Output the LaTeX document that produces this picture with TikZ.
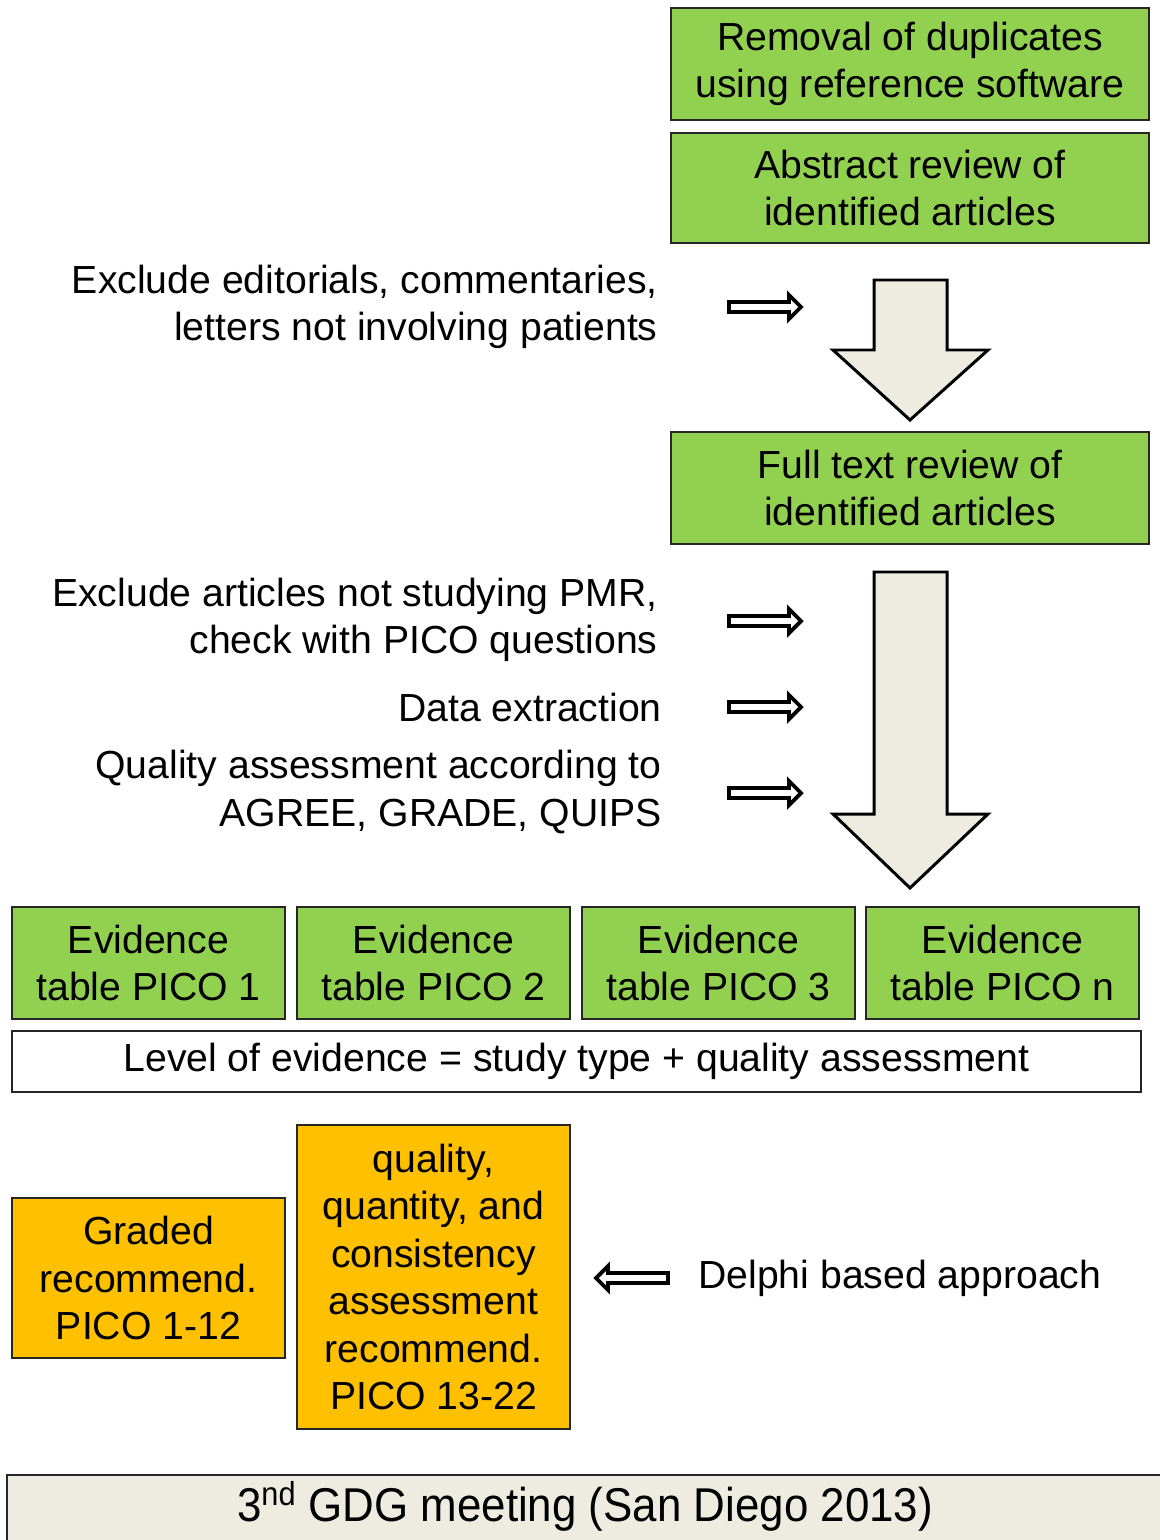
\documentclass[tikz,border=0pt]{standalone}
\usepackage{fontspec}
\setmainfont{Liberation Sans}
\definecolor{boxgreen}{RGB}{146,208,80}
\definecolor{boxorange}{RGB}{255,192,0}
\definecolor{paper}{RGB}{238,236,225}
\begin{document}
\begin{tikzpicture}
\tikzstyle{box} = [draw=black!85,line width=1pt,align=center,inner sep=0pt,font=\fontsize{22.3}{27}\selectfont]
\tikzstyle{green box} = [box,fill=boxgreen]
\tikzstyle{orange box} = [box,fill=boxorange]
\tikzstyle{note} = [align=right,inner sep=0pt,font=\fontsize{22.3}{27}\selectfont]
\tikzstyle{big arrow} = [draw=black,line width=1.7pt,fill=paper,line join=miter]
\tikzstyle{thin arrow} = [draw=black,line width=2.2pt,fill=white,line join=miter]
\def\u{0.02cm}

\useasboundingbox (0,0) rectangle (1159*\u,-1540*\u);

% search and screening
\node[green box,minimum width=478*\u,minimum height=112*\u] (dupl) at (910*\u,-64*\u) {Removal of duplicates\\using reference software};
\node[green box,minimum width=478*\u,minimum height=110*\u] (abstr) at (910*\u,-188*\u) {Abstract review of\\identified articles};
\node[green box,minimum width=478*\u,minimum height=112*\u] (full) at (910*\u,-488*\u) {Full text review of\\identified articles};

\node[note,anchor=east] (excl1) at (658*\u,-307*\u) {Exclude editorials, commentaries,\\letters not involving patients};
\node[note,anchor=east] (excl2) at (658*\u,-620*\u) {Exclude articles not studying PMR,\\check with PICO questions};
\node[note,anchor=east] (extr) at (662*\u,-707*\u) {Data extraction};
\node[note,anchor=east] (qual) at (662*\u,-792*\u) {Quality assessment according to\\AGREE, GRADE, QUIPS};

% down arrows
\draw[big arrow] (874*\u,-280*\u) -- (947*\u,-280*\u) -- (947*\u,-350*\u) -- (988*\u,-350*\u)
  -- (910*\u,-420*\u) -- (833*\u,-350*\u) -- (874*\u,-350*\u) -- cycle;
\draw[big arrow] (874*\u,-572*\u) -- (947*\u,-572*\u) -- (947*\u,-814*\u) -- (988*\u,-814*\u)
  -- (910*\u,-888*\u) -- (833*\u,-814*\u) -- (874*\u,-814*\u) -- cycle;

% small arrows beside the notes
\foreach \y in {307,621,707,793}
  \draw[thin arrow] (729*\u,-\y*\u+5*\u) -- (789*\u,-\y*\u+5*\u) -- (789*\u,-\y*\u+12*\u) -- (801*\u,-\y*\u)
    -- (789*\u,-\y*\u-12*\u) -- (789*\u,-\y*\u-5*\u) -- (729*\u,-\y*\u-5*\u) -- cycle;

% evidence tables
\foreach \i/\k in {1/148.5,2/433.5,3/718.5,n/1002.5}
  \node[green box,minimum width=273*\u,minimum height=112*\u] (pico\i) at (\k*\u,-963*\u) {Evidence\\table PICO \i};
\node[box,fill=white,minimum width=1129*\u,minimum height=61*\u] (level) at (576.5*\u,-1061.5*\u) {Level of evidence = study type + quality assessment};

% recommendations
\node[orange box,minimum width=273*\u,minimum height=160*\u] (graded) at (148.5*\u,-1278*\u) {Graded\\recommend.\\PICO 1-12};
\node[orange box,minimum width=273*\u,minimum height=304*\u] (qqc) at (433.5*\u,-1277*\u) {quality,\\quantity, and\\consistency\\assessment\\recommend.\\PICO 13-22};

\draw[thin arrow] (668*\u,-1273*\u) -- (608*\u,-1273*\u) -- (608*\u,-1266*\u) -- (596*\u,-1278*\u)
  -- (608*\u,-1290*\u) -- (608*\u,-1283*\u) -- (668*\u,-1283*\u) -- cycle;
\node[note,anchor=west] (delphi) at (698*\u,-1278*\u) {Delphi based approach};

% meeting bar
\node[box,fill=paper,minimum width=1170*\u,minimum height=75*\u,anchor=north west] (meet) at (6*\u,-1474*\u) {};
\node[font=\fontsize{27}{32}\selectfont,inner sep=0pt] (meettxt) at (585*\u,-1506*\u) {\scalebox{0.925}[1]{3\textsuperscript{nd} GDG meeting (San Diego 2013)}};
\end{tikzpicture}
\end{document}
